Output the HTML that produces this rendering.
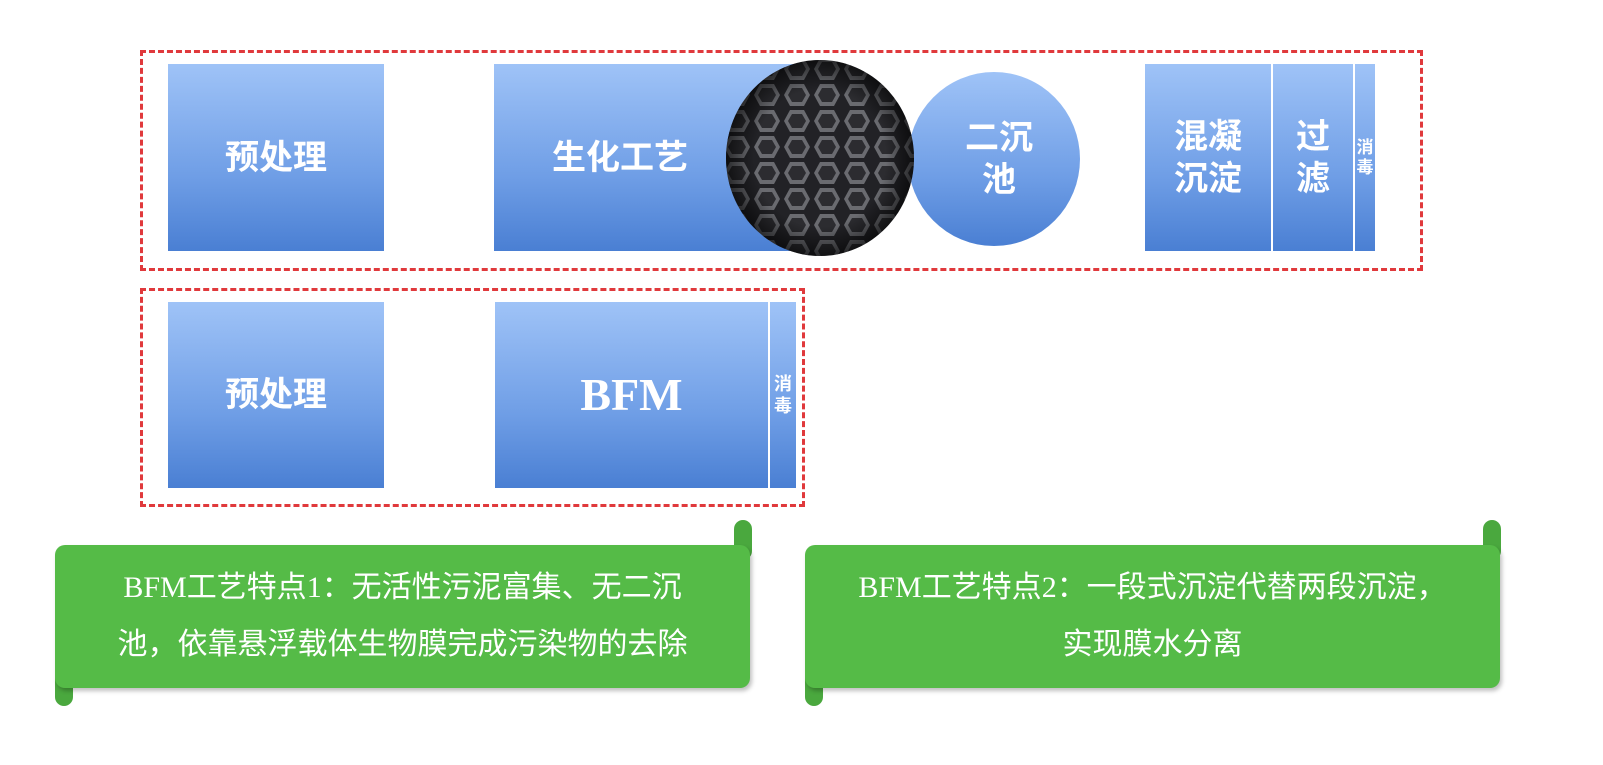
<!DOCTYPE html>
<html><head><meta charset="utf-8"><style>
body{margin:0;width:1603px;height:765px;background:#fff;position:relative;overflow:hidden;font-family:"Liberation Sans","Noto Sans CJK SC",sans-serif}
.a{position:absolute}
.dash{position:absolute;border:3px dashed #e0393c;box-sizing:border-box}
.blk{position:absolute;background:linear-gradient(#9fc3f7,#6f9ee6 60%,#4a7fd3);color:#fff;display:flex;align-items:center;justify-content:center;text-align:center;font-weight:bold;font-size:34px;line-height:42px}
.g{position:absolute;background:#55bb47;border-radius:10px;color:#fff;font-size:30px;line-height:57px;text-align:center;box-shadow:2px 3px 4px rgba(0,0,0,.25)}
.g span{font-family:"Liberation Serif",serif}
</style></head><body>
<div class="dash" style="left:140px;top:50px;width:1283px;height:221px"></div>
<div class="dash" style="left:140px;top:288px;width:665px;height:219px"></div>

<div class="blk" style="left:168px;top:64px;width:216px;height:187px">预处理</div>
<div class="blk" style="left:494px;top:64px;width:340px;height:187px;justify-content:flex-start;padding-left:58px;box-sizing:border-box">生化工艺</div>
<div class="blk" style="left:908px;top:72px;width:172px;height:174px;border-radius:50%;padding-left:10px;box-sizing:border-box">二沉<br>池</div>
<svg class="a" style="left:722px;top:56px" width="200" height="204">
<defs><pattern id="hx" width="30" height="26" patternUnits="userSpaceOnUse">
<rect width="30" height="26" fill="#222226"/>
<polygon points="8,2 22,2 28,13 22,24 8,24 2,13" fill="#6a6b70"/>
<polygon points="10,6 20,6 24,13 20,20 10,20 6,13" fill="#2c2c30"/></pattern>
<radialGradient id="sh"><stop offset="0.7" stop-color="#000" stop-opacity="0"/><stop offset="1" stop-color="#000" stop-opacity="0.6"/></radialGradient></defs>
<ellipse cx="98" cy="102" rx="94" ry="98" fill="url(#hx)"/>
<ellipse cx="98" cy="102" rx="94" ry="98" fill="url(#sh)"/>
</svg>
<div class="blk" style="left:1145px;top:64px;width:126px;height:187px">混凝<br>沉淀</div>
<div class="blk" style="left:1273px;top:64px;width:80px;height:187px">过<br>滤</div>
<div class="blk" style="left:1355px;top:64px;width:20px;height:187px;font-size:17px;line-height:20px">消<br>毒</div>

<div class="blk" style="left:168px;top:302px;width:216px;height:186px">预处理</div>
<div class="blk" style="left:495px;top:302px;width:273px;height:186px;font-family:'Liberation Serif',serif;font-size:46px">BFM</div>
<div class="blk" style="left:770px;top:302px;width:26px;height:186px;font-size:18px;line-height:22px">消<br>毒</div>

<div class="a" style="left:734px;top:520px;width:18px;height:40px;background:#4aa83e;border-radius:9px"></div>
<div class="a" style="left:55px;top:660px;width:18px;height:46px;background:#4aa83e;border-radius:9px"></div>
<div class="g" style="left:55px;top:545px;width:695px;height:143px;padding-top:14px;box-sizing:border-box"><span>BFM</span>工艺特点<span>1</span>：无活性污泥富集、无二沉<br>池，依靠悬浮载体生物膜完成污染物的去除</div>
<div class="a" style="left:1483px;top:520px;width:18px;height:40px;background:#4aa83e;border-radius:9px"></div>
<div class="a" style="left:805px;top:660px;width:18px;height:46px;background:#4aa83e;border-radius:9px"></div>
<div class="g" style="left:805px;top:545px;width:695px;height:143px;padding-top:14px;box-sizing:border-box"><span>BFM</span>工艺特点<span>2</span>：一段式沉淀代替两段沉淀，<br>实现膜水分离</div>
</body></html>
